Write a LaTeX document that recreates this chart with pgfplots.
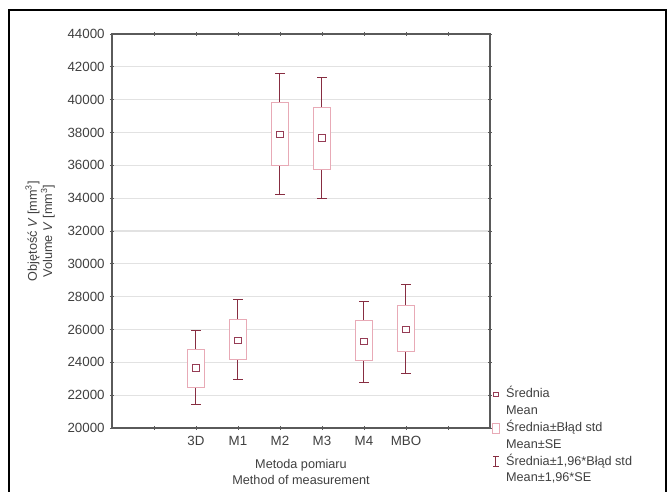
\documentclass[border=0pt]{standalone}
\usepackage{fontspec}
\setmainfont{Liberation Sans}
\usepackage{pgfplots}
\pgfplotsset{compat=1.18}
\definecolor{boxcol}{RGB}{232,170,182}
\definecolor{whiskcol}{RGB}{135,45,65}
\definecolor{meancol}{RGB}{150,60,85}
\definecolor{gridcol}{RGB}{226,226,226}
\definecolor{axcol}{RGB}{90,90,90}
\pgfplotsset{bx/.style={forget plot, boxcol, fill=white, line width=0.6pt, mark=none}}
\begin{document}
\begin{tikzpicture}
\useasboundingbox (-84pt,-48pt) rectangle (417.75pt,321pt);
\begin{axis}[
  scale only axis,
  width=283.5pt, height=295.5pt,
  xmin=-1, xmax=8,
  ymin=20000, ymax=44000,
  xtick={0,1,2,3,4,5,6,7},
  xticklabels={,3D,M1,M2,M3,M4,MBO,},
  ytick={20000,22000,...,44000},
  /pgf/number format/1000 sep={},
  /pgf/number format/assume math mode=true,
  scaled y ticks=false,
  tick pos=both,
  tick align=center,
  major tick length=3pt,
  tick style={axcol, line width=0.6pt},
  axis line style={axcol, line width=1.2pt},
  ymajorgrids,
  grid style={gridcol, line width=0.9pt},
  ticklabel style={font=\fontsize{10}{12}\selectfont, text=black!75},
  yticklabel style={xshift=-0.5pt},
  xticklabel style={yshift=-1pt},
  every axis x label/.style={at={(axis description cs:0.5,0)}, anchor=center, yshift=-33pt, align=center, font=\fontsize{9.5}{12}\selectfont, text=black!75},
  every axis y label/.style={at={(axis description cs:-0.19,0.5)}, rotate=90, anchor=center, align=center, font=\fontsize{9.5}{11.5}\selectfont, text=black!75},
  xlabel={Metoda pomiaru\\Method of measurement},
  ylabel={Objętość \textit{V} [mm\textsuperscript{3}]\\Volume \textit{V} [mm\textsuperscript{3}]},
  legend style={at={(axis description cs:1.0,0.101)}, anchor=north west, draw=none, fill=none,
    inner sep=0pt, row sep=3.6pt,
    nodes={inner sep=0pt, anchor=west, text height=7pt, text depth=2pt, font=\fontsize{9.5}{11}\selectfont, text=black!75},
    /tikz/every odd column/.append style={column sep=4.5pt}},
]
% whiskers: mean, +(upper whisker - mean), -(mean - lower whisker)
\addplot[forget plot, draw=none, mark=none,
  error bars/.cd, y dir=both, y explicit,
  error bar style={whiskcol, line width=0.75pt},
  error mark options={whiskcol, line width=0.75pt, mark size=3.4pt, rotate=90}]
  table[x=x, y=m, y error plus=ep, y error minus=em] {
x  m      ep    em
1  23650  2265  2230
2  25350  2490  2410
3  37865  3725  3625
4  37662  3665  3706
5  25269  2450  2471
6  26018  2734  2713
};
% boxes: mean +- SE
\addplot[bx] coordinates {(0.79,22470) (1.21,22470) (1.21,24800) (0.79,24800)} -- cycle;
\addplot[bx] coordinates {(1.79,24155) (2.21,24155) (2.21,26645) (1.79,26645)} -- cycle;
\addplot[bx] coordinates {(2.79,36000) (3.21,36000) (3.21,39810) (2.79,39810)} -- cycle;
\addplot[bx] coordinates {(3.79,35738) (4.21,35738) (4.21,39545) (3.79,39545)} -- cycle;
\addplot[bx] coordinates {(4.79,24094) (5.21,24094) (5.21,26524) (4.79,26524)} -- cycle;
\addplot[bx] coordinates {(5.79,24681) (6.21,24681) (6.21,27456) (5.79,27456)} -- cycle;
% means
\addplot[forget plot, only marks, mark=square, mark size=2.4pt, mark options={draw=meancol, line width=0.7pt}]
  coordinates {(1,23650) (2,25350) (3,37865) (4,37662) (5,25269) (6,26018)};
\addlegendimage{legend image code/.code={\draw[meancol, line width=0.6pt] (0.15cm,0) +(-1.8pt,-1.8pt) rectangle +(1.8pt,1.8pt);}}
\addlegendentry{Średnia}
\addlegendimage{empty legend}
\addlegendentry{Mean}
\addlegendimage{legend image code/.code={\draw[boxcol, line width=0.6pt] (0.05cm,-3.8pt) rectangle (0.25cm,3.8pt);}}
\addlegendentry{Średnia±Błąd std}
\addlegendimage{empty legend}
\addlegendentry{Mean±SE}
\addlegendimage{legend image code/.code={\draw[whiskcol, line width=0.7pt] (0.15cm,-3.8pt) -- (0.15cm,3.8pt) (0.08cm,-3.8pt) -- (0.22cm,-3.8pt) (0.08cm,3.8pt) -- (0.22cm,3.8pt);}}
\addlegendentry{Średnia±1,96*Błąd std}
\addlegendimage{empty legend}
\addlegendentry{Mean±1,96*SE}
\end{axis}
\draw[black, line width=0.9pt] (-77.25pt,-60pt) -- (-77.25pt,313.5pt) -- (415.5pt,313.5pt) -- (415.5pt,-60pt);
\end{tikzpicture}
\end{document}
